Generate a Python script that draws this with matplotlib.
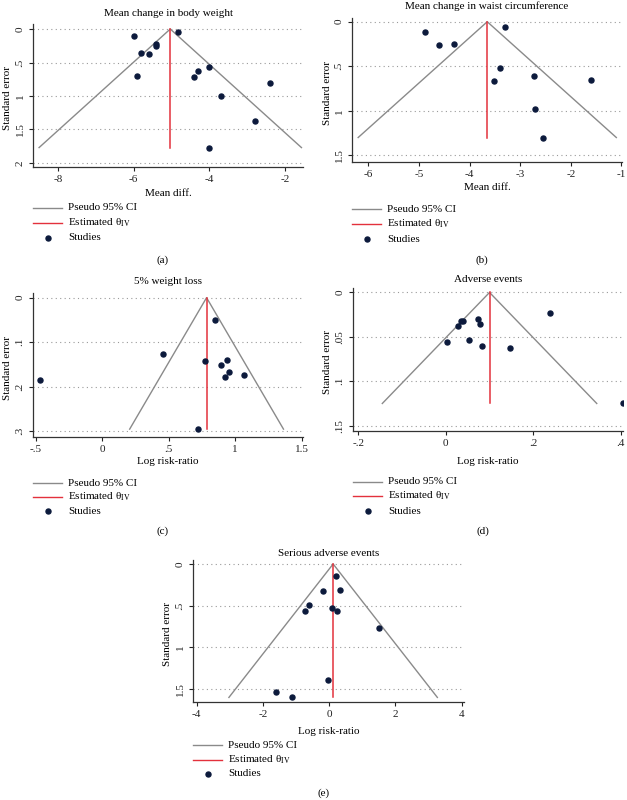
import numpy as np
import matplotlib
matplotlib.use('Agg')
import matplotlib.pyplot as plt
from matplotlib.lines import Line2D

plt.rcParams['font.family'] = ['Liberation Serif', 'DejaVu Serif']
plt.rcParams['mathtext.fontset'] = 'stix'
plt.rcParams['font.size'] = 8

W, H = 627, 800

# ---- data ----
# (a) mean change in body weight
a_md = [-6.0, -4.82, -5.42, -5.42, -5.8, -5.6, -5.9, -4.3, -4.4, -4.0, -3.7, -2.4, -2.8, -4.0]
a_se = [0.11, 0.05, 0.22, 0.26, 0.36, 0.38, 0.70, 0.62, 0.71, 0.56, 1.00, 0.80, 1.37, 1.77]
a_theta = -5.03

# (b) mean change in waist circumference
b_md = [-4.88, -4.6, -4.3, -3.3, -3.4, -3.52, -2.72, -1.6, -2.7, -2.55]
b_se = [0.11, 0.26, 0.25, 0.06, 0.52, 0.67, 0.61, 0.65, 0.98, 1.30]
b_theta = -3.65

# (c) 5% weight loss
c_lrr = [-0.47, 0.46, 0.85, 0.77, 0.89, 0.94, 0.95, 0.92, 1.07, 0.72]
c_se = [0.185, 0.126, 0.049, 0.143, 0.152, 0.140, 0.167, 0.177, 0.173, 0.295]
c_theta = 0.785

# (d) adverse events
d_lrr = [0.002, 0.029, 0.034, 0.040, 0.073, 0.079, 0.052, 0.083, 0.146, 0.238, 0.406]
d_se = [0.056, 0.038, 0.032, 0.032, 0.030, 0.035, 0.054, 0.060, 0.062, 0.023, 0.125]
d_theta = 0.10

# (e) serious adverse events
e_lrr = [0.20, -0.18, 0.34, -0.62, -0.73, 0.09, 0.23, 1.49, -0.04, -1.61, -1.13]
e_se = [0.15, 0.325, 0.31, 0.49, 0.57, 0.53, 0.565, 0.775, 1.40, 1.535, 1.605]
e_theta = 0.12

a_xt = [-8, -6, -4, -2]
a_xl = ['-8', '-6', '-4', '-2']
a_yt = [0, 0.5, 1, 1.5, 2]
a_yl = ['0', '.5', '1', '1.5', '2']
b_xt = [-6, -5, -4, -3, -2, -1]
b_xl = ['-6', '-5', '-4', '-3', '-2', '-1']
b_yt = [0, 0.5, 1, 1.5]
b_yl = ['0', '.5', '1', '1.5']
c_xt = [-0.5, 0, 0.5, 1, 1.5]
c_xl = ['-.5', '0', '.5', '1', '1.5']
c_yt = [0, 0.1, 0.2, 0.3]
c_yl = ['0', '.1', '.2', '.3']
d_xt = [-0.2, 0, 0.2, 0.4]
d_xl = ['-.2', '0', '.2', '.4']
d_yt = [0, 0.05, 0.1, 0.15]
d_yl = ['0', '.05', '.1', '.15']
e_xt = [-4, -2, 0, 2, 4]
e_xl = ['-4', '-2', '0', '2', '4']
e_yt = [0, 0.5, 1, 1.5]
e_yl = ['0', '.5', '1', '1.5']

GREY = '#8a8a8a'
RED = '#e3313c'
NAVY = '#0c1a3c'


def fx(x):
    return x / W


def fy(y):
    return 1 - y / H


def funnel(box, xlim, ylim, x, se, theta, xt, xl, yt, yl, title, title_y, xlab, xlab_y,
           ylab_x, leg_y, letter, letter_y):
    l, t, r, b = box
    ax = fig.add_axes([fx(l), fy(b), (r - l) / W, (b - t) / H])
    ax.set_xlim(*xlim)
    ax.set_ylim(*ylim)
    for v in yt:
        ax.axhline(v, color='#9a9a9a', lw=0.8, ls=(0, (1, 3)), zorder=0)
    se_max = max(se)
    ax.plot([theta - 1.96 * se_max, theta, theta + 1.96 * se_max], [se_max, 0, se_max],
            color=GREY, lw=1.0)
    ax.plot([theta, theta], [0, se_max], color=RED, lw=1.1)
    ax.scatter(x, se, s=13, color=NAVY, zorder=3)
    ax.set_xticks(xt, xl)
    ax.set_yticks(yt, yl)
    ax.tick_params(axis='both', direction='out', length=3, width=0.8, pad=3,
                   colors='#222222', labelsize=8)
    for lab in ax.get_yticklabels():
        lab.set_rotation(90)
        lab.set_va('center')
    for s in ['top', 'right']:
        ax.spines[s].set_visible(False)
    for s in ['left', 'bottom']:
        ax.spines[s].set_color('#333333')
        ax.spines[s].set_linewidth(0.9)

    cx = (l + r) / 2
    fig.text(fx(cx), fy(title_y), title, ha='center', va='center', fontsize=8)
    fig.text(fx(cx), fy(xlab_y), xlab, ha='center', va='center', fontsize=8)
    fig.text(fx(ylab_x), fy((t + b) / 2 + 3), 'Standard error', rotation=90,
             ha='center', va='center', fontsize=8)

    # legend
    y1, y2, y3 = leg_y
    fig.add_artist(Line2D([fx(l), fx(l + 29)], [fy(y1), fy(y1)], color=GREY, lw=1.0,
                          transform=fig.transFigure))
    fig.add_artist(Line2D([fx(l), fx(l + 29)], [fy(y2), fy(y2)], color=RED, lw=1.0,
                          transform=fig.transFigure))
    fig.add_artist(Line2D([fx(l + 15)], [fy(y3)], marker='o', ms=3.6, color=NAVY,
                          lw=0, transform=fig.transFigure))
    fig.text(fx(l + 35), fy(y1), 'Pseudo 95% CI', ha='left', va='center', fontsize=8)
    fig.text(fx(l + 35), fy(y2), 'Estimated θ$_{\\mathrm{IV}}$', ha='left',
             va='center', fontsize=8)
    fig.text(fx(l + 35), fy(y3), 'Studies', ha='left', va='center', fontsize=8)
    fig.text(fx(cx - 5), fy(letter_y), letter, ha='center', va='center', fontsize=8)
    return ax


fig = plt.figure(figsize=(W / 100, H / 100), dpi=100)
fig.patch.set_facecolor('white')

funnel((33, 24, 303, 167), (-8.66, -1.52), (2.06, -0.075), a_md, a_se, a_theta,
       a_xt, a_xl, a_yt, a_yl, 'Mean change in body weight', 13, 'Mean diff.', 194,
       8, (208, 223, 238), '(a)', 260)
funnel((352, 18, 622, 162), (-6.32, -0.99), (1.575, -0.042), b_md, b_se, b_theta,
       b_xt, b_xl, b_yt, b_yl, 'Mean change in waist circumference', 6, 'Mean diff.', 188,
       328, (209, 224, 239), '(b)', 260)
funnel((33, 293, 303, 437), (-0.52, 1.51), (0.3127, -0.0105), c_lrr, c_se, c_theta,
       c_xt, c_xl, c_yt, c_yl, '5% weight loss', 282, 'Log risk-ratio', 461,
       8, (483, 497, 511), '(c)', 531)
funnel((353, 288, 623, 431), (-0.212, 0.405), (0.156, -0.005), d_lrr, d_se, d_theta,
       d_xt, d_xl, d_yt, d_yl, 'Adverse events', 279, 'Log risk-ratio', 461,
       328, (482, 496, 511), '(d)', 531)
funnel((193, 560, 464, 702), (-4.11, 4.07), (1.66, -0.048), e_lrr, e_se, e_theta,
       e_xt, e_xl, e_yt, e_yl, 'Serious adverse events', 553, 'Log risk-ratio', 732,
       168, (745, 760, 774), '(e)', 793)

fig.savefig('out.png', dpi=100, facecolor='white')
